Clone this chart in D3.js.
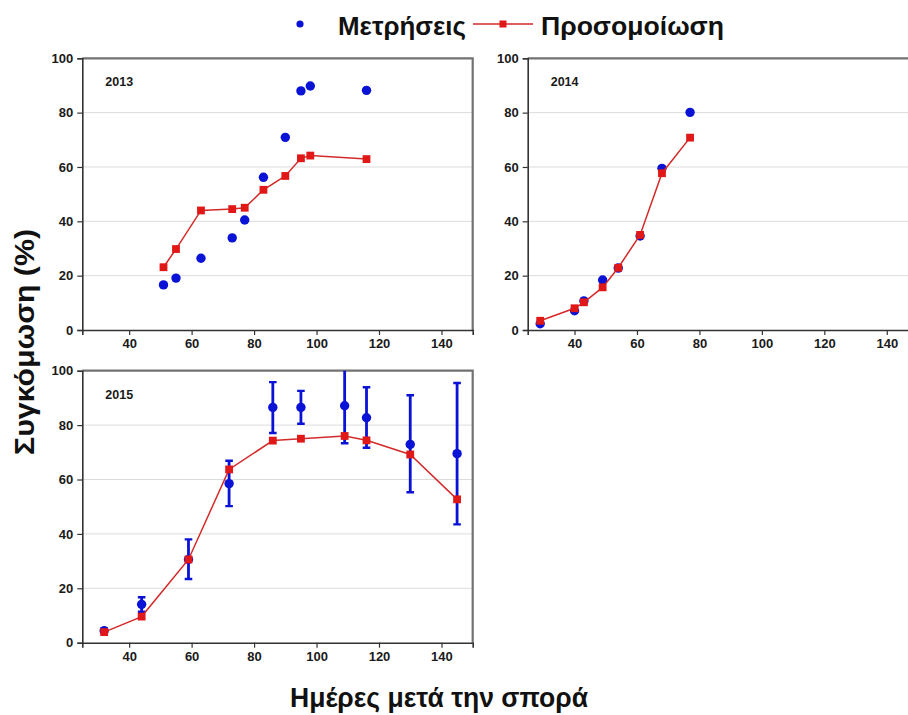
<!DOCTYPE html>
<html>
<head>
<meta charset="utf-8">
<script src="https://cdn.jsdelivr.net/npm/d3@7"></script>
<style>
  body { margin: 0; background: #fff; }
  text { font-family: "Liberation Sans", Arial, sans-serif; }
</style>
</head>
<body>
<svg id="chart" width="908" height="715"></svg>
<script>
const days2013 = [51, 55, 63, 73, 77, 83, 90, 95, 98, 116];
const meas2013 = [16.6, 19.1, 26.4, 33.9, 40.5, 56.2, 70.9, 88.0, 89.8, 88.2];
const sim2013 = [23.1, 29.8, 44.0, 44.5, 45.0, 51.6, 56.7, 63.2, 64.2, 62.9];

const days2014 = [29, 40, 43, 49, 54, 61, 68, 77];
const meas2014 = [2.3, 7.1, 10.7, 18.4, 22.8, 34.6, 59.5, 80.1];
const sim2014 = [3.4, 8.0, 10.2, 15.7, 22.9, 35.0, 57.7, 70.8];

const days2015 = [32, 44, 59, 72, 86, 95, 109, 116, 130, 145];
const meas2015 = [4.4, 14.1, 30.6, 58.5, 86.5, 86.5, 87.1, 82.7, 72.9, 69.5];
const errLo2015 = [3.6, 11.4, 23.4, 50.2, 77.1, 80.5, 73.3, 71.7, 55.3, 43.5];
const errHi2015 = [5.2, 16.7, 38.0, 66.9, 95.8, 92.6, 101, 93.9, 91.0, 95.5];
const sim2015 = [3.9, 9.6, 30.6, 63.7, 74.3, 75.0, 76.0, 74.4, 69.2, 52.7];

const xTicks = [40, 60, 80, 100, 120, 140];
const yTicks = [0, 20, 40, 60, 80, 100];

const blue = "#0a12d6";
const red = "#e01818";

const svg = d3.select("#chart");

const panels = [
  { year: "2013", days: days2013, meas: meas2013, sim: sim2013, left: 82.3, right: 472.7, top: 58.3, bottom: 330 },
  { year: "2014", days: days2014, meas: meas2014, sim: sim2014, left: 527.7, right: 918, top: 58.3, bottom: 330 },
  { year: "2015", days: days2015, meas: meas2015, sim: sim2015, lo: errLo2015, hi: errHi2015, left: 82.3, right: 472.7, top: 370.7, bottom: 642.7 }
];

panels.forEach((p, i) => {
  const x = d3.scaleLinear().domain([25, 150]).range([p.left, p.right]);
  const y = d3.scaleLinear().domain([0, 100]).range([p.bottom, p.top]);
  const g = svg.append("g");

  svg.append("clipPath").attr("id", "clip" + i)
    .append("rect")
    .attr("x", p.left).attr("y", p.top)
    .attr("width", p.right - p.left).attr("height", p.bottom - p.top);

  // grid
  g.selectAll("line.grid")
    .data(yTicks.filter(t => t > 0 && t < 100))
    .enter().append("line")
    .attr("x1", p.left).attr("x2", p.right)
    .attr("y1", d => y(d)).attr("y2", d => y(d))
    .attr("stroke", "#dcdcdc").attr("stroke-width", 1);

  // frame top and right
  g.append("path")
    .attr("d", `M${p.left},${p.top}H${p.right}V${p.bottom}`)
    .attr("fill", "none").attr("stroke", "#727272").attr("stroke-width", 2.2);

  const xAxis = g.append("g")
    .attr("transform", `translate(0,${p.bottom})`)
    .call(d3.axisBottom(x).tickValues(xTicks).tickSize(5).tickPadding(4));
  const yAxis = g.append("g")
    .attr("transform", `translate(${p.left},0)`)
    .call(d3.axisLeft(y).tickValues(yTicks).tickSize(5).tickPadding(4));

  [xAxis, yAxis].forEach(a => {
    a.select(".domain").attr("stroke", "#333").attr("stroke-width", 1.6);
    a.selectAll(".tick line").attr("stroke", "#333").attr("stroke-width", 1.2);
    a.selectAll(".tick text")
      .attr("fill", "#1a1a1a")
      .style("font-family", "'Liberation Sans', Arial, sans-serif")
      .style("font-weight", "bold").style("font-size", "13px");
  });

  g.append("text")
    .attr("x", p.left + 23).attr("y", p.top + 28)
    .style("font-weight", "bold").style("font-size", "12.5px")
    .attr("fill", "#1a1a1a")
    .text(p.year);

  const marks = g.append("g").attr("clip-path", `url(#clip${i})`);

  if (p.lo) {
    const eb = marks.selectAll("g.err").data(p.days).enter().append("g");
    eb.append("line")
      .attr("x1", d => x(d)).attr("x2", d => x(d))
      .attr("y1", (d, j) => y(p.lo[j])).attr("y2", (d, j) => y(p.hi[j]))
      .attr("stroke", blue).attr("stroke-width", 2.8);
    ["lo", "hi"].forEach(k => {
      eb.append("line")
        .attr("x1", d => x(d) - 3.8).attr("x2", d => x(d) + 3.8)
        .attr("y1", (d, j) => y(p[k][j])).attr("y2", (d, j) => y(p[k][j]))
        .attr("stroke", blue).attr("stroke-width", 2.4);
    });
  }

  marks.selectAll("circle").data(p.days).enter().append("circle")
    .attr("cx", d => x(d)).attr("cy", (d, j) => y(p.meas[j]))
    .attr("r", 4.7).attr("fill", blue);

  const line = d3.line().x(d => x(d[0])).y(d => y(d[1]));
  marks.append("path")
    .datum(p.days.map((d, j) => [d, p.sim[j]]))
    .attr("d", line)
    .attr("fill", "none").attr("stroke", "#d42a2a").attr("stroke-width", 1.5);

  marks.selectAll("rect.sim").data(p.days).enter().append("rect")
    .attr("x", d => x(d) - 3.9).attr("y", (d, j) => y(p.sim[j]) - 3.9)
    .attr("width", 7.8).attr("height", 7.8).attr("fill", red);
});

// legend
const leg = svg.append("g");
leg.append("circle").attr("cx", 300).attr("cy", 24).attr("r", 3.6).attr("fill", blue);
leg.append("text").attr("x", 338).attr("y", 35)
  .attr("textLength", 128).attr("lengthAdjust", "spacingAndGlyphs")
  .style("font-weight", "bold").style("font-size", "26px").attr("fill", "#111")
  .text("Μετρήσεις");
leg.append("line").attr("x1", 473).attr("x2", 533).attr("y1", 24).attr("y2", 24)
  .attr("stroke", "#d42a2a").attr("stroke-width", 1.5);
leg.append("rect").attr("x", 499.5).attr("y", 20.5).attr("width", 7).attr("height", 7).attr("fill", red);
leg.append("text").attr("x", 541).attr("y", 35)
  .attr("textLength", 183).attr("lengthAdjust", "spacingAndGlyphs")
  .style("font-weight", "bold").style("font-size", "26px").attr("fill", "#111")
  .text("Προσομοίωση");

// axis titles
svg.append("text")
  .attr("transform", "translate(34,342) rotate(-90)")
  .attr("text-anchor", "middle")
  .attr("textLength", 226).attr("lengthAdjust", "spacingAndGlyphs")
  .style("font-weight", "bold").style("font-size", "27px").attr("fill", "#111")
  .text("Συγκόμωση (%)");

svg.append("text")
  .attr("x", 290).attr("y", 707)
  .attr("textLength", 298).attr("lengthAdjust", "spacingAndGlyphs")
  .style("font-weight", "bold").style("font-size", "27px").attr("fill", "#111")
  .text("Ημέρες μετά την σπορά");
</script>
</body>
</html>
